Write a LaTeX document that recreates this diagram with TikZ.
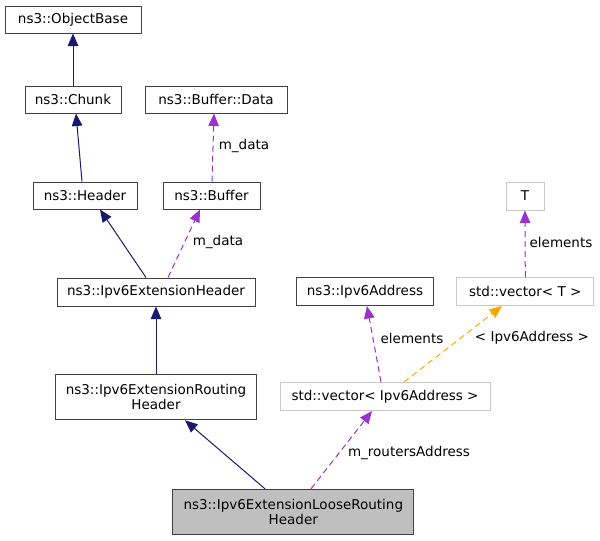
\documentclass[tikz,border=0pt]{standalone}
\usepackage{fontspec}
\setmainfont{DejaVu Sans}
\usetikzlibrary{arrows.meta}
\definecolor{navy}{HTML}{191970}
\definecolor{purp}{HTML}{9A32CD}
\definecolor{orng}{HTML}{FFA500}
\definecolor{boxgray}{HTML}{BFBFBF}
\definecolor{lightborder}{HTML}{C8C8C8}
\begin{document}
\begin{tikzpicture}[x=1pt,y=-1pt,
  box/.style={draw=black!75, line width=1pt, inner sep=0pt, align=center,
    font=\fontsize{13.5}{15.5}\selectfont},
  gbox/.style={box, draw=lightborder},
  lbl/.style={inner sep=0pt, font=\fontsize{13.5}{15.5}\selectfont},
  tip/.style={-{Triangle[length=12.5pt,width=10.5pt]}},
  inh/.style={draw=navy, line width=1pt, tip},
  usep/.style={draw=purp, line width=1pt, dash pattern=on 6pt off 4pt, tip},
  useo/.style={draw=orng, line width=1pt, dash pattern=on 6pt off 4pt, tip}]
\useasboundingbox (0,0) rectangle (600,541);
\node[box, minimum width=136pt, minimum height=27pt] (ob) at (73,19.5) {ns3::ObjectBase};
\node[box, minimum width=96pt, minimum height=27pt] (chunk) at (73,99.5) {ns3::Chunk};
\node[box, minimum width=142pt, minimum height=27pt] (data) at (216,99.5) {ns3::Buffer::Data};
\node[box, minimum width=104pt, minimum height=27pt] (header) at (85,195.5) {ns3::Header};
\node[box, minimum width=97pt, minimum height=27pt] (buffer) at (211.5,195.5) {ns3::Buffer};
\node[gbox, minimum width=38pt, minimum height=28pt] (T) at (525,196) {T};
\node[box, minimum width=198pt, minimum height=28pt] (ext) at (156,292) {ns3::Ipv6ExtensionHeader};
\node[box, minimum width=137pt, minimum height=28pt] (addr) at (365,291.5) {ns3::Ipv6Address};
\node[gbox, minimum width=137pt, minimum height=28pt] (vect) at (525.3,291.5) {std::vector< T >};
\node[gbox, minimum width=210pt, minimum height=28pt] (veca) at (385,396.5) {std::vector< Ipv6Address >};
\node[box, minimum width=201pt, minimum height=45.6pt] (route) at (156,397) {ns3::Ipv6ExtensionRouting\\Header};
\node[box, fill=boxgray, minimum width=241pt, minimum height=45pt] (loose) at (293.3,511.8) {ns3::Ipv6ExtensionLooseRouting\\Header};

\draw[inh] (chunk.north) -- (ob.south);
\draw[inh] ([xshift=-3pt]header.north) -- ([xshift=3pt]chunk.south);
\draw[usep] ([xshift=0.5pt]buffer.north) -- ([xshift=-2pt]data.south);
\draw[inh] ([xshift=-10pt]ext.north) -- ([xshift=15pt]header.south);
\draw[usep] ([xshift=12pt]ext.north) -- ([xshift=-11.5pt]buffer.south);
\draw[inh] (route.north) -- (ext.south);
\draw[inh] ([xshift=-28.3pt]loose.north) -- ([xshift=29pt]route.south);
\draw[usep] ([xshift=17.7pt]loose.north) -- ([xshift=-13pt]veca.south);
\draw[usep] ([xshift=-4pt]veca.north) -- ([xshift=2pt]addr.south);
\draw[useo] ([xshift=19pt]veca.north) -- ([xshift=-23.3pt]vect.south);
\draw[usep] (vect.north) -- (T.south);

\node[lbl] (l1) at (244,146) {m\_data};
\node[lbl] (l2) at (218,242) {m\_data};
\node[lbl] (l3) at (409,453) {m\_routersAddress};
\node[lbl] (l4) at (412,338) {elements};
\node[lbl] (l5) at (532,338) {< Ipv6Address >};
\node[lbl] (l6) at (561,242) {elements};
\end{tikzpicture}
\end{document}
